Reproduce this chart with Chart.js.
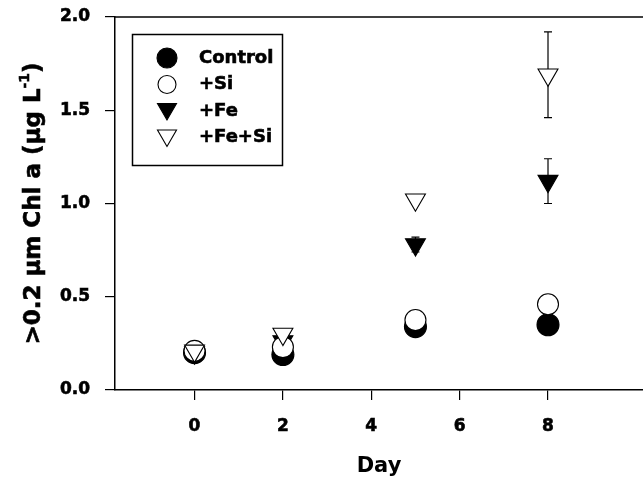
<!DOCTYPE html>
<html>
<head>
<meta charset="utf-8">
<script src="https://cdn.jsdelivr.net/npm/chart.js@4"></script>
<style>
  html, body { margin: 0; padding: 0; background: #fff; overflow: hidden; }
  canvas { display: block; }
</style>
</head>
<body>
<canvas id="chl" width="643" height="485"></canvas>
<script>
// >0.2 um chlorophyll a over the incubation, per treatment
const days = [0, 2, 5, 8];
const control = [0.20, 0.19, 0.34, 0.35];
const controlErr = [0.01, 0.01, 0.02, 0.05];
const si = [0.21, 0.23, 0.375, 0.46];
const siErr = [0, 0, 0, 0];
const fe = [0.20, 0.26, 0.78, 1.12];
const feErr = [0.01, 0.02, 0.04, 0.12];
const feSi = [0.21, 0.30, 1.02, 1.69];
const feSiErr = [0.01, 0.01, 0.02, 0.23];

const xTicks = [0, 2, 4, 6, 8];
const yTicks = [0, 0.5, 1.0, 1.5, 2.0];

const FONT = '"DejaVu Sans", "Liberation Sans", Arial, sans-serif';

function pts(ys) {
  return days.map((d, i) => ({ x: d, y: ys[i] }));
}

// first dataset is painted last, so open symbols sit on top
const datasets = [
  { label: '+Fe+Si', data: pts(feSi), err: feSiErr, pointStyle: 'triangle', rotation: 180, radius: 11.5, bg: '#fff' },
  { label: '+Si', data: pts(si), err: siErr, pointStyle: 'circle', rotation: 0, radius: 10.5, bg: '#fff' },
  { label: '+Fe', data: pts(fe), err: feErr, pointStyle: 'triangle', rotation: 180, radius: 11.5, bg: '#000' },
  { label: 'Control', data: pts(control), err: controlErr, pointStyle: 'circle', rotation: 0, radius: 11, bg: '#000' }
].map(d => ({
  label: d.label,
  data: d.data,
  err: d.err,
  showLine: false,
  pointStyle: d.pointStyle,
  pointRotation: d.rotation,
  pointRadius: d.radius,
  pointBackgroundColor: d.bg,
  pointBorderColor: '#000',
  pointBorderWidth: 1.1,
  clip: false
}));

const errorBars = {
  id: 'errorBars',
  beforeDatasetsDraw(chart) {
    const ctx = chart.ctx;
    const xs = chart.scales.x, ys = chart.scales.y;
    ctx.save();
    ctx.strokeStyle = '#000';
    ctx.lineWidth = 1.2;
    chart.data.datasets.forEach(ds => {
      ds.data.forEach((p, i) => {
        const e = ds.err[i];
        if (!e) return;
        const x = xs.getPixelForValue(p.x);
        const top = ys.getPixelForValue(p.y + e);
        const bot = ys.getPixelForValue(p.y - e);
        ctx.beginPath();
        ctx.moveTo(x, top); ctx.lineTo(x, bot);
        ctx.moveTo(x - 4, top); ctx.lineTo(x + 4, top);
        ctx.moveTo(x - 4, bot); ctx.lineTo(x + 4, bot);
        ctx.stroke();
      });
    });
    ctx.restore();
  }
};

function marker(ctx, style, x, y, r, fill) {
  ctx.beginPath();
  if (style === 'circle') {
    ctx.arc(x, y, r, 0, Math.PI * 2);
  } else {
    // downward triangle
    const h = Math.sqrt(3) / 2 * r;
    ctx.moveTo(x, y + r);
    ctx.lineTo(x - h, y - r / 2);
    ctx.lineTo(x + h, y - r / 2);
    ctx.closePath();
  }
  ctx.fillStyle = fill;
  ctx.fill();
  ctx.strokeStyle = '#000';
  ctx.lineWidth = 1.1;
  ctx.stroke();
}

function heavyText(ctx, text, x, y) {
  ctx.fillText(text, x, y);
  ctx.strokeText(text, x, y);
}

const frameAndKey = {
  id: 'frameAndKey',
  afterDraw(chart) {
    const ctx = chart.ctx;
    const a = chart.chartArea;
    ctx.save();
    // top frame line
    ctx.strokeStyle = '#000';
    ctx.lineWidth = 1.5;
    ctx.beginPath();
    ctx.moveTo(a.left, a.top);
    ctx.lineTo(a.right, a.top);
    ctx.stroke();

    // key box
    ctx.strokeRect(132.5, 34.5, 150, 131);
    const rows = [
      ['Control', 'circle', 10, '#000'],
      ['+Si', 'circle', 9, '#fff'],
      ['+Fe', 'triangle', 11, '#000'],
      ['+Fe+Si', 'triangle', 11, '#fff']
    ];
    rows.forEach((row, i) => {
      const y = 58 + i * 26.5;
      marker(ctx, row[1], 167, row[1] === 'triangle' ? y - 2 : y, row[2], row[3]);
      ctx.fillStyle = '#000';
      ctx.strokeStyle = '#000';
      ctx.lineWidth = 0.6;
      ctx.font = 'bold 18px ' + FONT;
      ctx.textAlign = 'left';
      ctx.textBaseline = 'middle';
      heavyText(ctx, row[0], 199, y);
    });

    // y axis title with superscript
    const main = '>0.2 \u00b5m Chl a (\u00b5g L';
    const sup = '-1';
    const tail = ')';
    const mainFont = 'bold 23px ' + FONT;
    const supFont = 'bold 14px ' + FONT;
    ctx.font = mainFont;
    const w1 = ctx.measureText(main).width;
    const w3 = ctx.measureText(tail).width;
    ctx.font = supFont;
    const w2 = ctx.measureText(sup).width;
    const total = w1 + w2 + w3;
    ctx.translate(34, (a.top + a.bottom) / 2);
    ctx.rotate(-Math.PI / 2);
    ctx.textAlign = 'left';
    ctx.textBaseline = 'middle';
    ctx.fillStyle = '#000';
    ctx.strokeStyle = '#000';
    ctx.lineWidth = 0.6;
    let x = -total / 2;
    ctx.font = mainFont;
    heavyText(ctx, main, x, 0);
    x += w1;
    ctx.font = supFont;
    heavyText(ctx, sup, x, -9);
    x += w2;
    ctx.font = mainFont;
    heavyText(ctx, tail, x, 0);
    ctx.restore();
  }
};

new Chart(document.getElementById('chl').getContext('2d'), {
  type: 'scatter',
  data: { datasets: datasets },
  plugins: [errorBars, frameAndKey],
  options: {
    responsive: false,
    animation: false,
    devicePixelRatio: 1,
    layout: { autoPadding: false, padding: { top: 17, right: 0, left: 0, bottom: 0 } },
    plugins: {
      legend: { display: false },
      tooltip: { enabled: false }
    },
    scales: {
      x: {
        type: 'linear',
        min: -1.8,
        max: 10.15,
        afterBuildTicks: s => { s.ticks = xTicks.map(v => ({ value: v })); },
        afterFit: s => { s.height = 95; s.paddingLeft = 0; s.paddingRight = 0; },
        ticks: {
          color: '#000',
          font: { family: FONT, size: 17, weight: 'bold' },
          textStrokeColor: '#000',
          textStrokeWidth: 0.6,
          padding: 16,
          maxRotation: 0,
          callback: v => String(v)
        },
        grid: { drawOnChartArea: false, drawTicks: true, tickLength: 10, color: '#000', lineWidth: 1.2 },
        border: { display: true, color: '#000', width: 1.5 },
        title: {
          display: true,
          text: 'Day',
          color: '#000',
          font: { family: FONT, size: 21, weight: 'bold' },
          padding: { top: 0, bottom: 6 }
        }
      },
      y: {
        type: 'linear',
        min: 0,
        max: 2,
        afterBuildTicks: s => { s.ticks = yTicks.map(v => ({ value: v })); },
        afterFit: s => { s.width = 115; s.paddingTop = 0; s.paddingBottom = 0; },
        ticks: {
          color: '#000',
          font: { family: FONT, size: 17, weight: 'bold' },
          textStrokeColor: '#000',
          textStrokeWidth: 0.6,
          padding: 15,
          callback: v => Number(v).toFixed(1)
        },
        grid: { drawOnChartArea: false, drawTicks: true, tickLength: 10, color: '#000', lineWidth: 1.2 },
        border: { display: true, color: '#000', width: 1.5 }
      }
    }
  }
});
</script>
</body>
</html>
